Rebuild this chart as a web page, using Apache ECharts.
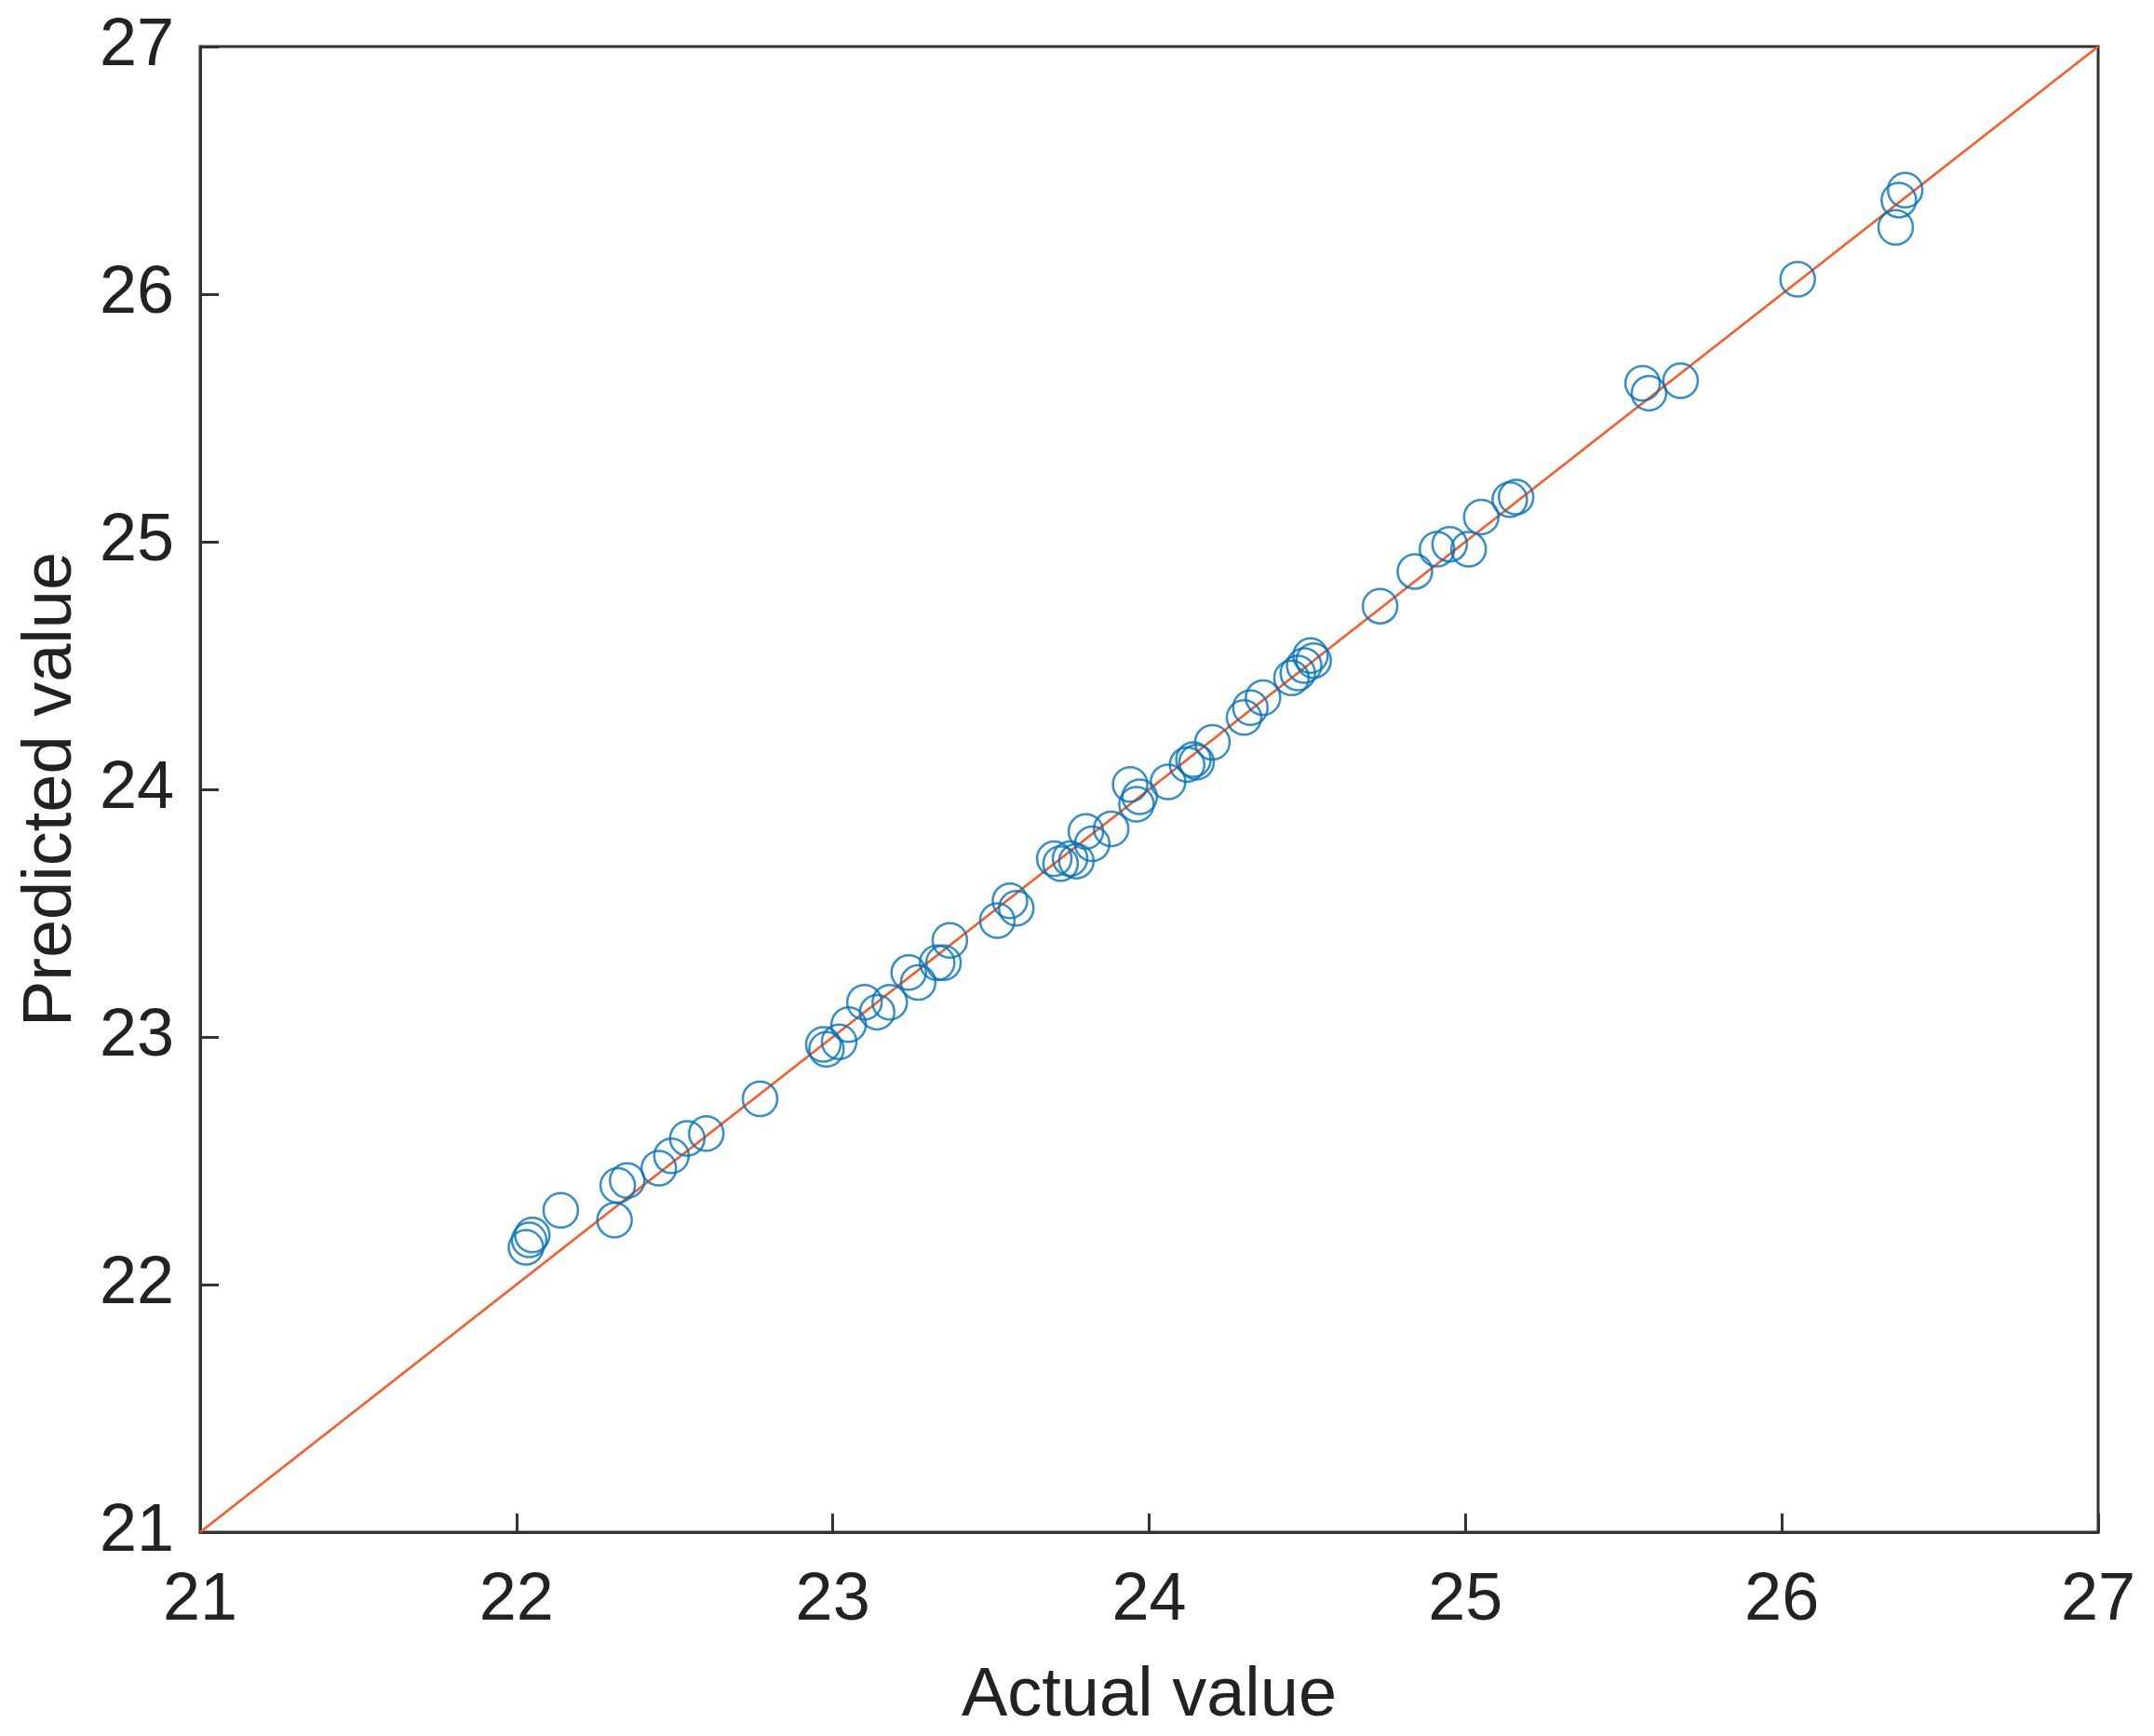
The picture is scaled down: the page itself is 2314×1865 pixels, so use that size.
<!DOCTYPE html>
<html>
<head>
<meta charset="utf-8">
<script src="https://cdn.jsdelivr.net/npm/echarts@6/dist/echarts.min.js"></script>
<style>html,body{margin:0;background:#fff}#main{width:2314px;height:1865px}</style>
</head>
<body>
<div id="main"></div>
<script>
// 实际值 / 预测值
var actual = [22.03,22.05,22.04,22.14,22.31,22.32,22.35,22.45,22.49,22.54,22.6,22.77,22.97,22.98,23.02,23.05,23.1,23.14,23.18,23.24,23.27,23.33,23.35,23.37,23.52,23.56,23.58,23.7,23.72,23.75,23.77,23.8,23.82,23.88,23.94,23.96,23.97,24.06,24.12,24.14,24.15,24.2,24.3,24.32,24.36,24.45,24.47,24.49,24.51,24.52,24.73,24.84,24.91,24.95,25.01,25.05,25.14,25.16,25.56,25.58,25.68,26.05,26.36,26.37,26.39];
var predicted = [22.15,22.2,22.18,22.3,22.26,22.4,22.42,22.47,22.52,22.59,22.61,22.75,22.97,22.95,22.98,23.05,23.14,23.1,23.14,23.26,23.22,23.3,23.3,23.39,23.47,23.55,23.52,23.72,23.7,23.72,23.71,23.83,23.78,23.84,24.02,23.94,23.97,24.03,24.1,24.12,24.11,24.19,24.29,24.33,24.37,24.45,24.47,24.5,24.54,24.52,24.74,24.88,24.97,24.99,24.97,25.1,25.17,25.18,25.64,25.6,25.65,26.06,26.27,26.38,26.42];
var idealLine = [[21,21],[27,27]];

var points = actual.map(function(a, i){ return [a, predicted[i]]; });
var font = 'Arial, "Liberation Sans", sans-serif';

var axisCommon = {
    min: 21, max: 27, interval: 1,
    nameLocation: 'middle',
    nameTextStyle: {fontSize: 74, color: '#222', fontFamily: font},
    axisLine: {show: true, lineStyle: {color: '#333', width: 3}},
    axisTick: {inside: true, length: 20, lineStyle: {color: '#333', width: 3}},
    axisLabel: {fontSize: 72, color: '#222', fontFamily: font},
    splitLine: {show: false}
};

var myChart = echarts.init(document.getElementById('main'));
var option = {
    backgroundColor: '#fff',
    animation: false,
    grid: {left: 215, right: 60, top: 50, bottom: 207, show: true, borderColor: '#333', borderWidth: 3},
    xAxis: Object.assign({}, axisCommon, {
        type: 'value', name: 'Actual value', nameGap: 140,
        axisLabel: Object.assign({}, axisCommon.axisLabel, {margin: 38})
    }),
    yAxis: Object.assign({}, axisCommon, {
        type: 'value', name: 'Predicted value', nameGap: 122,
        axisLabel: Object.assign({}, axisCommon.axisLabel, {margin: 28})
    }),
    series: [
        {
            type: 'line', data: idealLine, symbol: 'none',
            lineStyle: {color: '#FF5722', width: 2.5}, z: 1
        },
        {
            type: 'scatter', data: points, symbol: 'circle', symbolSize: 37,
            itemStyle: {color: 'rgba(0,0,0,0)', borderColor: '#0072BD', borderWidth: 2.5}, z: 2
        }
    ]
};
myChart.setOption(option);
</script>
</body>
</html>
